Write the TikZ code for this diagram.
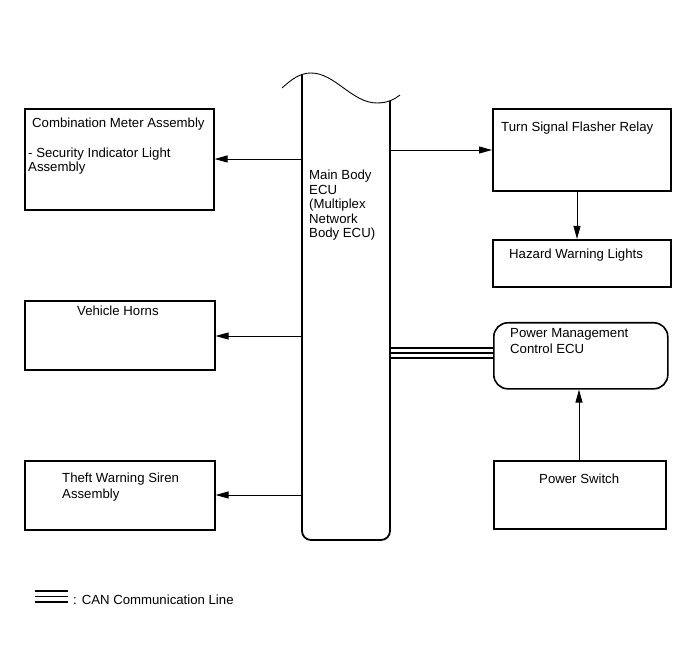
\documentclass[tikz,border=0pt]{standalone}
\usepackage{fontspec}
\setmainfont{Liberation Sans}
\usetikzlibrary{arrows.meta}
\begin{document}
\begin{tikzpicture}[x=1pt,y=-1pt,
  box/.style={draw,line width=1.6pt,anchor=north west,inner sep=0pt},
  rbox/.style={box,rounded corners=14pt},
  txt/.style={anchor=base west,inner sep=0pt,align=left,font=\fontsize{13.2}{14.5}\selectfont},
  arr/.style={line width=0.9pt,-{Triangle[length=13pt,width=7pt]}},
  can/.style={line width=1.3pt}]
\useasboundingbox (0,0) rectangle (691,660);
% main ECU column
\draw[line width=1.8pt,rounded corners=9pt] (302,75) -- (302,540) -- (390,540) -- (390,101);
\draw[line width=0.9pt] (282,88) .. controls (292,79) and (300,73) .. (311,73)
  .. controls (335,73) and (352,103) .. (377,103) .. controls (388,103) and (395,99) .. (400,95);
\node[txt,font=\fontsize{13.2}{14.5}\selectfont] (ecu) at (309,238) {Main Body\\ECU\\(Multiplex\\Network\\Body ECU)};
\coordinate (e1) at (302,159);
\coordinate (e2) at (302,336);
\coordinate (e3) at (302,495);
\coordinate (e4) at (390,150);
\coordinate (c1) at (390,348);
\coordinate (c2) at (390,353);
\coordinate (c3) at (390,358);
% left boxes
\node[box,minimum width=189pt,minimum height=101pt] (cm) at (24,108) {};
\node[txt] (cmt) at (32,128) {Combination Meter Assembly};
\node[txt,font=\fontsize{13.2}{14}\selectfont] (cms) at (28,172) {- Security Indicator Light\\Assembly};
\node[box,minimum width=190pt,minimum height=69pt] (vh) at (24,300) {};
\node[txt] (vht) at (77,316) {Vehicle Horns};
\node[box,minimum width=190pt,minimum height=69pt] (tw) at (24,460) {};
\node[txt,font=\fontsize{13.2}{16}\selectfont] (twt) at (62,498) {Theft Warning Siren\\Assembly};
% right boxes
\node[box,minimum width=178pt,minimum height=82pt] (ts) at (492,108) {};
\node[txt] (tst) at (501,132) {Turn Signal Flasher Relay};
\node[box,minimum width=178pt,minimum height=47pt] (hz) at (492,239) {};
\node[txt] (hzt) at (509,259) {Hazard Warning Lights};
\node[rbox,minimum width=174pt,minimum height=66pt] (pm) at (493,322) {};
\node[txt,font=\fontsize{13.2}{15}\selectfont] (pmt) at (510,353) {Power Management\\Control ECU};
\node[box,minimum width=172pt,minimum height=68pt] (ps) at (493,460) {};
\node[txt] (pst) at (539,483) {Power Switch};
% arrows
\draw[arr] (e1) -- (cm.east|-e1);
\draw[arr] (e2) -- (vh.east|-e2);
\draw[arr] (e3) -- (tw.east|-e3);
\draw[arr] (e4) -- (ts.west|-e4);
\coordinate (tsb) at (577,190);
\draw[arr] (tsb) -- (hz.north-|tsb);
\coordinate (psb) at (579,460);
\draw[arr] (psb) -- (pm.south-|psb);
% CAN lines
\draw[can] (c1) -- (pm.west|-c1);
\draw[can] (c2) -- (pm.west|-c2);
\draw[can] (c3) -- (pm.west|-c3);
% legend
\coordinate (l1) at (35,591);
\coordinate (l2) at (35,596.5);
\coordinate (l3) at (35,602);
\coordinate (m1) at (68,591);
\coordinate (m2) at (68,596.5);
\coordinate (m3) at (68,602);
\draw[can] (l1) -- (m1);
\draw[can] (l2) -- (m2);
\draw[can] (l3) -- (m3);
\node[txt] (leg) at (73,604) {: CAN Communication Line};
\end{tikzpicture}
\end{document}
